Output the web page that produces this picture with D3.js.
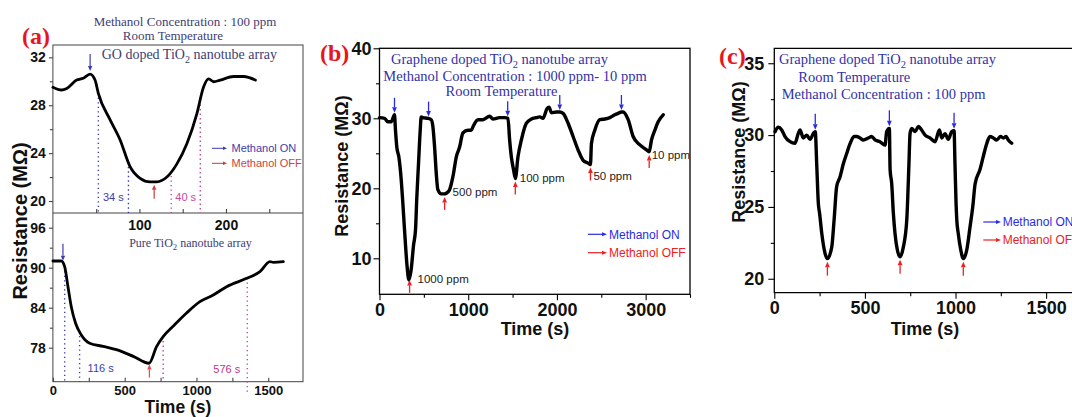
<!DOCTYPE html>
<html>
<head>
<meta charset="utf-8">
<script src="https://cdn.jsdelivr.net/npm/d3@7"></script>
<style>
body{margin:0;background:#fff;}
svg{display:block;background:#fff;}
</style>
</head>
<body>
<svg width="1072" height="417"></svg>
<script>
// ---------- data (time in s, resistance in MOhm) ----------
// (a) top: GO doped TiO2, 100 ppm
const aGoTime = [0, 10, 16, 27.5, 35, 43, 48.7, 52.5, 66, 77.7, 89, 100.8, 112.4, 120, 131.7, 143.3, 154.9, 166.4, 174, 180, 185.6, 193.4, 208.8, 220.4, 234];
const aGoRes  = [29.5, 29.27, 29.4, 30.1, 30.25, 30.6, 30.1, 29.0, 26.8, 25.1, 22.9, 21.9, 21.6, 21.6, 22.0, 23.1, 24.8, 27.3, 29.5, 30.2, 29.96, 30.1, 30.4, 30.4, 30.1];
const aGoOn = [43];
const aGoOff = [117];
const aGoResp = [52.5, 87.3];   // 34 s
const aGoRec = [136.7, 170.3];  // 40 s

// (a) bottom: pure TiO2
const aPureTime = [0, 58.6, 82, 105, 128, 158, 198, 256, 350, 442, 560, 670, 722, 768, 837, 931, 1024, 1117, 1210, 1350, 1442, 1512, 1535, 1605];
const aPureRes  = [91.0, 91.0, 90.15, 87.15, 84.15, 81.66, 79.9, 78.66, 78.2, 77.7, 76.7, 75.67, 78.16, 79.66, 81.2, 83.2, 84.9, 85.9, 87.15, 88.4, 89.4, 90.9, 90.8, 90.9];
const aPureOn = [70];
const aPureOff = [672];
const aPureResp = [82, 186];    // 116 s
const aPureRec = [768, 1354];   // 576 s

// (b) graphene doped TiO2, 1000 ppm - 10 ppm
const bTime = [0, 56, 94, 132, 169, 180, 195, 218, 245, 263, 282, 310, 331, 356, 384, 406, 421, 440, 459, 470, 489, 545, 583, 602, 621, 640, 658, 696, 734, 753, 790, 828, 866, 903, 940, 997, 1035, 1054, 1110, 1166, 1242, 1279, 1354, 1411, 1448, 1467, 1486, 1512, 1531, 1561, 1599, 1656, 1712, 1769, 1806, 1843, 1889, 1911, 1938, 1994, 2032, 2069, 2126, 2182, 2238, 2295, 2351, 2378, 2389, 2427, 2483, 2539, 2596, 2652, 2690, 2727, 2746, 2803, 2859, 2935, 3010, 3040, 3066, 3104, 3141, 3198];
const bRes  = [30.1, 30.0, 29.5, 29.5, 30.5, 28.3, 25.9, 24.5, 21.2, 17.9, 14.1, 9.0, 6.9, 8.3, 11.9, 14.1, 18.8, 23.6, 28.3, 30.2, 30.1, 30.0, 29.8, 28.8, 25.9, 22.1, 19.8, 19.2, 19.2, 19.3, 19.8, 21.7, 24.5, 25.9, 27.9, 28.3, 28.3, 28.8, 29.8, 29.8, 30.3, 29.9, 30.1, 30.1, 30.0, 26.9, 24.5, 22.6, 21.4, 24.5, 26.9, 29.3, 29.9, 30.1, 30.2, 30.0, 31.4, 31.6, 30.8, 30.9, 30.9, 30.7, 29.3, 27.4, 25.5, 24.0, 23.6, 23.4, 26.4, 28.3, 29.8, 29.9, 30.1, 30.5, 30.7, 30.9, 30.9, 29.8, 27.4, 26.2, 25.5, 25.2, 26.9, 28.3, 29.5, 30.5];
const bOn = [169, 553, 1445, 2032, 2727];
const bOff = [339, 734, 1531, 2378, 3040];
const bConc = ['1000 ppm', '500 ppm', '100 ppm', '50 ppm', '10 ppm'];

// (c) graphene doped TiO2, 100 ppm, 3 cycles
const cTime = [4, 22, 41, 59, 87, 114, 132, 142, 160, 179, 197, 215, 226, 234, 243, 250, 262, 280, 293, 317, 330, 344, 363, 381, 399, 418, 440, 455, 473, 491, 519, 537, 556, 583, 611, 620, 635, 639, 648, 657, 666, 679, 694, 712, 731, 743, 749, 758, 777, 795, 813, 832, 859, 887, 911, 924, 942, 960, 979, 992, 997, 1003, 1007, 1015, 1029, 1043, 1062, 1080, 1095, 1108, 1135, 1153, 1172, 1190, 1209, 1227, 1249, 1264, 1279, 1291, 1310];
const cRes  = [30.24, 30.54, 30.36, 29.9, 29.54, 29.43, 30.1, 30.35, 29.8, 30.0, 29.7, 30.1, 30.24, 28.0, 25.25, 24.55, 23.16, 21.77, 21.4, 22.2, 24.1, 26.4, 27.1, 28.0, 28.7, 29.4, 29.9, 29.9, 29.8, 29.66, 29.8, 29.9, 29.66, 29.54, 29.3, 30.24, 30.47, 27.6, 26.6, 24.55, 23.16, 22.0, 21.53, 22.2, 24.1, 28.0, 30.1, 30.47, 30.24, 30.6, 30.35, 30.0, 29.8, 29.54, 30.35, 29.8, 30.1, 29.7, 30.24, 30.3, 28.0, 25.25, 24.1, 23.16, 22.0, 21.4, 22.0, 23.6, 25.0, 26.6, 27.6, 28.5, 29.4, 29.9, 29.8, 29.66, 29.9, 29.8, 29.9, 29.66, 29.43];
const cOn = [226, 635, 992];
const cOff = [293, 694, 1043];

// ticks
const aGoYTicks = [20, 24, 28, 32], aGoYMinor = [22, 26, 30];
const aGoXTicks = [50, 100, 150, 200, 250];
const aPureYTicks = [78, 84, 90, 96], aPureYMinor = [81, 87, 93];
const aPureXTicks = [0, 250, 500, 750, 1000, 1250, 1500];
const bXTicks = [0, 1000, 2000, 3000], bXMinor = [500, 1500, 2500, 3500];
const bYTicks = [10, 20, 30, 40], bYMinor = [15, 25, 35];
const cXTicks = [0, 500, 1000, 1500], cXMinor = [250, 750, 1250, 1750];
const cYTicks = [20, 25, 30, 35], cYMinor = [22.5, 27.5, 32.5];

// ---------- drawing ----------
const svg = d3.select('svg');
const SANS = '"Liberation Sans", Arial, sans-serif';
const SERIF = '"Liberation Serif", "Times New Roman", serif';
const fmt = d3.format('d');

const xAT = d3.scaleLinear().domain([0, 289]).range([52.9, 303]);
const yAT = d3.scaleLinear().domain([19.0, 33.03]).range([213, 45]);
const xAB = d3.scaleLinear().domain([0, 1742]).range([52.9, 303]);
const yAB = d3.scaleLinear().domain([72.9, 98.2]).range([381.7, 213]);
const xB = d3.scaleLinear().domain([0, 3500]).range([379.5, 690]);
const yB = d3.scaleLinear().domain([4.86, 40]).range([294.3, 48.3]);
const xC = d3.scaleLinear().domain([0, 1800]).range([774.3, 1100.5]);
const yC = d3.scaleLinear().domain([19.03, 36.04]).range([292.7, 48.3]);

const interp = (t, v) => d3.scaleLinear().domain(t).range(v).clamp(true);

function drawAxis(gen, tx, ty, size, stroke) {
  const g = svg.append('g').attr('transform', `translate(${tx},${ty})`).call(gen);
  g.select('.domain').remove();
  g.selectAll('line').attr('stroke', stroke).attr('stroke-width', 1.1);
  g.selectAll('text').style('font-family', SANS).style('font-weight', 'bold')
    .style('font-size', size + 'px').attr('fill', '#111');
  return g;
}

function drawCurve(t, v, xs, ys, w) {
  svg.append('path')
    .datum(d3.zip(t, v))
    .attr('d', d3.line().x(d => xs(d[0])).y(d => ys(d[1])).curve(d3.curveMonotoneX))
    .attr('fill', 'none').attr('stroke', '#000').attr('stroke-width', w)
    .attr('stroke-linejoin', 'round').attr('stroke-linecap', 'round');
}

function arrow(x1, y1, x2, y2, color, hl = 6, hw = 2.6, sw = 1.3) {
  const dx = x2 - x1, dy = y2 - y1, L = Math.hypot(dx, dy);
  const ux = dx / L, uy = dy / L;
  const bx = x2 - ux * hl, by = y2 - uy * hl;
  svg.append('line').attr('x1', x1).attr('y1', y1).attr('x2', bx).attr('y2', by)
    .attr('stroke', color).attr('stroke-width', sw);
  svg.append('path')
    .attr('d', `M${x2},${y2}L${bx - uy * hw},${by + ux * hw}L${bx + uy * hw},${by - ux * hw}Z`)
    .attr('fill', color);
}

function text(x, y, str, size, color, opts = {}) {
  return svg.append('text').attr('x', x).attr('y', y).text(str)
    .style('font-family', opts.family || SANS).style('font-size', size + 'px')
    .style('font-weight', opts.weight || 'normal')
    .attr('text-anchor', opts.anchor || 'start').attr('fill', color);
}

// text with TiO2 subscript
function titleSub(x, y, before, after, size, color, anchor = 'start') {
  const t = svg.append('text').attr('x', x).attr('y', y)
    .style('font-family', SERIF).style('font-size', size + 'px')
    .attr('text-anchor', anchor).attr('fill', color);
  t.append('tspan').text(before);
  t.append('tspan').attr('dy', size * 0.25).style('font-size', (size * 0.72) + 'px').text('2');
  t.append('tspan').attr('dy', -size * 0.25).text(after);
}

function yLabel(x, y, size) {
  svg.append('text').attr('transform', `translate(${x},${y}) rotate(-90)`)
    .attr('text-anchor', 'middle').style('font-family', SANS).style('font-weight', 'bold')
    .style('font-size', size + 'px').attr('fill', '#111').text('Resistance (M\u03A9)');
}

// ===== panel (a) =====
const aBlue = '#3d3db0', aRed = '#c83c3c', aPink = '#c8489c', aTitle = '#3d3d75';
svg.append('rect').attr('x', 52.9).attr('y', 45).attr('width', 303 - 52.9).attr('height', 381.7 - 45)
  .attr('fill', 'none').attr('stroke', '#444').attr('stroke-width', 1);
svg.append('line').attr('x1', 52.9).attr('x2', 303).attr('y1', 213).attr('y2', 213)
  .attr('stroke', '#444').attr('stroke-width', 1);

drawAxis(d3.axisLeft(yAT).tickValues(aGoYTicks).tickSize(4).tickPadding(3), 52.9, 0, 14, '#444');
drawAxis(d3.axisLeft(yAT).tickValues(aGoYMinor).tickSize(3).tickFormat(''), 52.9, 0, 14, '#444');
drawAxis(d3.axisBottom(xAT).tickValues(aGoXTicks).tickSize(-4).tickPadding(7)
  .tickFormat(d => d % 100 === 0 ? fmt(d) : ''), 0, 213, 14, '#444');
drawAxis(d3.axisLeft(yAB).tickValues(aPureYTicks).tickSize(4).tickPadding(3), 52.9, 0, 14, '#444');
drawAxis(d3.axisLeft(yAB).tickValues(aPureYMinor).tickSize(3).tickFormat(''), 52.9, 0, 14, '#444');
drawAxis(d3.axisBottom(xAB).tickValues(aPureXTicks).tickSize(-4).tickPadding(4)
  .tickFormat(d => d % 500 === 0 ? fmt(d) : ''), 0, 381.7, 13, '#444');

// dotted response / recovery markers
const dotted = (x, y1, y2, color) => svg.append('line').attr('x1', x).attr('x2', x)
  .attr('y1', y1).attr('y2', y2).attr('stroke', color).attr('stroke-width', 1.4)
  .attr('stroke-dasharray', '1.3,3.2');
const fGo = interp(aGoTime, aGoRes), fPure = interp(aPureTime, aPureRes);
aGoResp.forEach(t => dotted(xAT(t), yAT(fGo(t)), 213, aBlue));
aGoRec.forEach(t => dotted(xAT(t), yAT(fGo(t)), 213, aPink));
aPureResp.forEach(t => dotted(xAB(t), yAB(fPure(t)), 381.7, aBlue));
aPureRec.forEach((t, i) => dotted(xAB(t), yAB(fPure(t)), i === 1 ? 393 : 381.7, aPink));

text((xAT(aGoResp[0]) + xAT(aGoResp[1])) / 2, 201, '34 s', 11, aBlue, { anchor: 'middle' });
text((xAT(aGoRec[0]) + xAT(aGoRec[1])) / 2, 201, '40 s', 11, aPink, { anchor: 'middle' });
text(xAB(aPureResp[1]) + 8, 372, '116 s', 11, aBlue);
text(xAB(aPureRec[1]) - 7, 373, '576 s', 11, '#b8368c', { anchor: 'end' });

drawCurve(aGoTime, aGoRes, xAT, yAT, 2.8);
drawCurve(aPureTime, aPureRes, xAB, yAB, 2.8);

aGoOn.forEach(t => { const y = yAT(fGo(t)); arrow(xAT(t), y - 20, xAT(t), y - 3, aBlue, 5, 2.2, 1.2); });
aGoOff.forEach(t => { const y = yAT(fGo(t)); arrow(xAT(t), y + 17, xAT(t), y + 3, aRed, 5, 2.2, 1.2); });
aPureOn.forEach(t => { const y = yAB(fPure(t)); arrow(xAB(t), y - 20, xAB(t), y - 3, aBlue, 5, 2.2, 1.2); });
aPureOff.forEach(t => { const y = yAB(fPure(t)); arrow(xAB(t), y + 15, xAB(t), y + 2, '#e04a4a', 5, 2.2, 1.2); });

arrow(212, 148.3, 227, 148.3, aBlue, 4, 1.8, 1);
text(231.5, 152.3, 'Methanol ON', 11, '#3d3da8');
arrow(212, 163.3, 227, 163.3, aRed, 4, 1.8, 1);
text(231.5, 167.3, 'Methanol OFF', 11, '#c84444');

text(185, 26, 'Methanol Concentration : 100 ppm', 13, aTitle, { family: SERIF, anchor: 'middle' });
text(173, 40, 'Room Temperature', 13, aTitle, { family: SERIF, anchor: 'middle' });
titleSub(101.7, 59, 'GO doped TiO', ' nanotube array', 14, aTitle);
titleSub(190.5, 247, 'Pure TiO', ' nanotube array', 12, aTitle, 'middle');

yLabel(27, 221, 20);
text(178, 413, 'Time (s)', 17.5, '#111', { weight: 'bold', anchor: 'middle' });
text(22, 44, '(a)', 24, '#e8141e', { family: SERIF, weight: 'bold' });

// ===== panel (b) =====
const blue = '#2a2ae6', red = '#ee2020', titleCol = '#3232a8';
svg.append('rect').attr('x', 379.5).attr('y', 48.3).attr('width', 690 - 379.5).attr('height', 294.3 - 48.3)
  .attr('fill', 'none').attr('stroke', '#000').attr('stroke-width', 1.3);
drawAxis(d3.axisBottom(xB).tickValues(bXTicks).tickSize(6).tickPadding(3).tickFormat(fmt), 0, 294.3, 18, '#000');
drawAxis(d3.axisBottom(xB).tickValues(bXMinor).tickSize(3.5).tickFormat(''), 0, 294.3, 18, '#000');
drawAxis(d3.axisLeft(yB).tickValues(bYTicks).tickSize(6).tickPadding(2).tickFormat(fmt), 379.5, 0, 18, '#000');
drawAxis(d3.axisLeft(yB).tickValues(bYMinor).tickSize(3.5).tickFormat(''), 379.5, 0, 18, '#000');

drawCurve(bTime, bRes, xB, yB, 3.4);
const fB = interp(bTime, bRes);
bOn.forEach(t => { const y = yB(fB(t)); arrow(xB(t), y - 17, xB(t), y - 2, blue, 5.5, 2.4, 1.3); });
const bMin = bOff.map(t => yB(fB(t)));
bOff.forEach((t, i) => arrow(xB(t), bMin[i] + 16, xB(t), bMin[i] + 3, red, 5.5, 2.4, 1.3));
const nudge = [[8, 6], [8, 2], [4.5, 3], [3, 15], [2.5, 7]];
bConc.forEach((s, i) => text(xB(bOff[i]) + nudge[i][0], bMin[i] + nudge[i][1], s, 11.5, '#222'));

arrow(588, 234.3, 607, 234.3, blue, 5, 2, 1.2);
text(609, 238.5, 'Methanol ON', 12, blue);
arrow(588, 252.7, 607, 252.7, red, 5, 2, 1.2);
text(609, 257, 'Methanol OFF', 12, red);

titleSub(391, 64, 'Graphene doped TiO', ' nanotube array', 14.5, titleCol);
text(383.3, 81, 'Methanol Concentration : 1000 ppm- 10 ppm', 14.5, titleCol, { family: SERIF });
text(501.5, 95.5, 'Room Temperature', 14.5, titleCol, { family: SERIF, anchor: 'middle' });

yLabel(348, 166, 18);
text(535, 335, 'Time (s)', 18, '#111', { weight: 'bold', anchor: 'middle' });
text(320, 61, '(b)', 24, '#e8141e', { family: SERIF, weight: 'bold' });

// ===== panel (c) =====
svg.append('path').attr('d', 'M1080,48.3H774.3V292.7H1080')
  .attr('fill', 'none').attr('stroke', '#000').attr('stroke-width', 1.3);
drawAxis(d3.axisBottom(xC).tickValues(cXTicks).tickSize(6).tickPadding(3).tickFormat(fmt), 0, 292.7, 18, '#000');
drawAxis(d3.axisBottom(xC).tickValues(cXMinor).tickSize(3.5).tickFormat(''), 0, 292.7, 18, '#000');
drawAxis(d3.axisLeft(yC).tickValues(cYTicks).tickSize(6).tickPadding(4).tickFormat(fmt), 774.3, 0, 18, '#000');
drawAxis(d3.axisLeft(yC).tickValues(cYMinor).tickSize(3.5).tickFormat(''), 774.3, 0, 18, '#000');

drawCurve(cTime, cRes, xC, yC, 3.4);
const fC = interp(cTime, cRes);
cOn.forEach(t => { const y = yC(fC(t)); arrow(xC(t), y - 18, xC(t), y - 2, blue, 5.5, 2.4, 1.3); });
cOff.forEach(t => { const y = yC(fC(t)); arrow(xC(t), y + 17, xC(t), y + 3, red, 5.5, 2.4, 1.3); });

arrow(983.3, 222, 1001, 222, blue, 5, 2, 1.2);
text(1002.7, 226.2, 'Methanol ON', 12, blue);
arrow(983.3, 240, 1001, 240, red, 5, 2, 1.2);
text(1002.7, 244.2, 'Methanol OFF', 12, red);

titleSub(779, 64, 'Graphene doped TiO', ' nanotube array', 14.5, titleCol);
text(798.3, 81.5, 'Room Temperature', 14.5, titleCol, { family: SERIF });
text(781.7, 99, 'Methanol Concentration : 100 ppm', 14.5, titleCol, { family: SERIF });

yLabel(744.5, 152, 18);
text(925, 335, 'Time (s)', 18, '#111', { weight: 'bold', anchor: 'middle' });
text(719, 64, '(c)', 24, '#e8141e', { family: SERIF, weight: 'bold' });
</script>
</body>
</html>
